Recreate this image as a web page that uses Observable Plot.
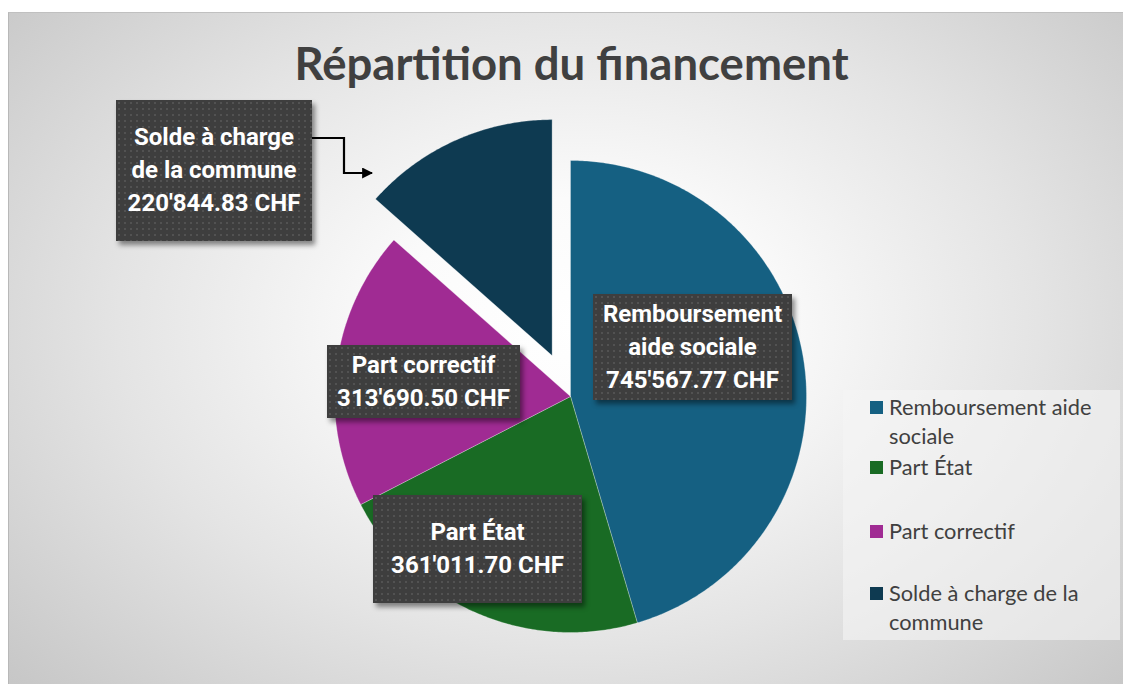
<!DOCTYPE html>
<html>
<head>
<meta charset="utf-8">
<script src="https://cdn.jsdelivr.net/npm/d3@7"></script>
<script src="https://cdn.jsdelivr.net/npm/@observablehq/plot@0.6"></script>
<style>
  html, body { margin: 0; padding: 0; background: #fff; }
  #root { position: relative; width: 1123px; height: 684px; overflow: hidden; }
  #frame {
    position: absolute; left: 8px; top: 12px; width: 1115px; height: 680px;
    border-left: 1px solid #b8b8b8; border-top: 1px solid #c0c0c0;
    background: radial-gradient(ellipse 75% 85% at 51% 46%, #ffffff 0%, #fbfbfb 22%, #e4e4e4 55%, #c8c8c8 90%, #c2c2c2 100%);
  }
  #title {
    position: absolute; left: 0; width: 1143px; top: 35px; text-align: center;
    font-family: Lato, sans-serif; font-weight: 700; font-size: 45.5px; color: #404040;
  }
  #plot { position: absolute; left: 0; top: 0; }
  .lbl {
    position: absolute; box-sizing: border-box; color: #fff;
    font-family: Roboto, sans-serif; font-weight: 700; font-size: 24px; line-height: 33px;
    text-align: center; display: flex; flex-direction: column; justify-content: center;
    background-color: #3e3e3e;
    background-image: radial-gradient(rgba(255,255,255,0.10) 1px, transparent 1.3px);
    background-size: 6px 6px;
    box-shadow: 3px 4px 5px rgba(0,0,0,0.45);
  }
  #legend {
    position: absolute; left: 843px; top: 390px; width: 277px; height: 250px;
    background: rgba(245,245,245,0.6);
  }
  .li { position: absolute; left: 46px; font-family: Lato, sans-serif; font-size: 21.8px; line-height: 29px; color: #404040; width: 225px; }
  .sw { position: absolute; left: -19px; top: 9px; width: 13px; height: 13px; }
  #conn { position: absolute; left: 0; top: 0; }
</style>
</head>
<body>
<div id="root">
  <div id="frame"></div>
  <div id="title">Répartition du financement</div>
  <div id="plot"></div>
  <svg id="conn" width="1123" height="684"></svg>
  <div id="labels"></div>
  <div id="legend"></div>
</div>
<script>
// ---- data ----
const categories = ["Remboursement aide sociale", "Part État", "Part correctif", "Solde à charge de la commune"];
const values = [745567.77, 361011.70, 313690.50, 220844.83];
const colors = ["#156082", "#196B24", "#A02B93", "#0E3A51"];
const labelLines = [
  ["Remboursement", "aide sociale"],
  ["Part État"],
  ["Part correctif"],
  ["Solde à charge", "de la commune"]
];
const explode = [0, 0, 0, 0.19];

// ---- layout ----
const W = 1123, H = 684;
const cx = 570, cy = 396, R = 236;

const fmt = v => {
  const [i, d] = v.toFixed(2).split(".");
  return i.replace(/\B(?=(\d{3})+(?!\d))/g, "'") + "." + d + " CHF";
};

const arcs = d3.pie().sort(null).startAngle(0).endAngle(2 * Math.PI)(values);
const rows = [];
arcs.forEach((a, k) => {
  const mid = (a.startAngle + a.endAngle) / 2;
  const ox = explode[k] * Math.sin(mid), oy = explode[k] * Math.cos(mid);
  const name = categories[k];
  rows.push({name, u: ox, v: oy});
  const n = Math.max(2, Math.ceil((a.endAngle - a.startAngle) / 0.01));
  for (let j = 0; j <= n; j++) {
    const t = a.startAngle + (a.endAngle - a.startAngle) * j / n;
    rows.push({name, u: ox + Math.sin(t), v: oy + Math.cos(t)});
  }
  rows.push({name, u: ox, v: oy});
});

const plot = Plot.plot({
  width: W, height: H,
  margin: 0,
  x: {domain: [-cx / R, (W - cx) / R], axis: null},
  y: {domain: [-(H - cy) / R, cy / R], axis: null},
  color: {domain: categories, range: colors},
  style: {background: "transparent", overflow: "visible"},
  marks: [
    Plot.line(rows, {x: "u", y: "v", z: "name", fill: "name", stroke: "#ffffff", strokeOpacity: 0.35, strokeWidth: 0.8, curve: "linear"})
  ]
});
document.getElementById("plot").appendChild(plot);

// ---- data labels (boxes) ----
const boxes = [
  {left: 593, top: 294, w: 199, h: 106},
  {left: 373, top: 495, w: 209, h: 108},
  {left: 327, top: 345, w: 193, h: 73},
  {left: 116, top: 100, w: 196, h: 141}
];
const labelsDiv = document.getElementById("labels");
categories.forEach((c, k) => {
  const b = boxes[k];
  const d = document.createElement("div");
  d.className = "lbl";
  d.style.left = b.left + "px"; d.style.top = b.top + "px";
  d.style.width = b.w + "px"; d.style.height = b.h + "px";
  [...labelLines[k], fmt(values[k])].forEach(t => {
    const s = document.createElement("div"); s.textContent = t; d.appendChild(s);
  });
  labelsDiv.appendChild(d);
});

// connector for exploded slice label
const conn = d3.select("#conn");
conn.append("defs").append("marker").attr("id", "ah").attr("viewBox", "0 0 10 10")
  .attr("refX", 9).attr("refY", 5).attr("markerWidth", 5).attr("markerHeight", 5).attr("orient", "auto")
  .append("path").attr("d", "M0,0L10,5L0,10z").attr("fill", "#000");
conn.append("polyline").attr("points", "312,138 344,138 344,173 372,173")
  .attr("fill", "none").attr("stroke", "#000").attr("stroke-width", 2.2).attr("marker-end", "url(#ah)");

// ---- legend ----
const legendTops = [392, 452, 516, 578];
const leg = document.getElementById("legend");
categories.forEach((c, k) => {
  const it = document.createElement("div");
  it.className = "li";
  it.style.top = (legendTops[k] - 390) + "px";
  const sw = document.createElement("div");
  sw.className = "sw"; sw.style.background = colors[k];
  it.appendChild(sw);
  it.appendChild(document.createTextNode(c));
  leg.appendChild(it);
});
</script>
</body>
</html>
